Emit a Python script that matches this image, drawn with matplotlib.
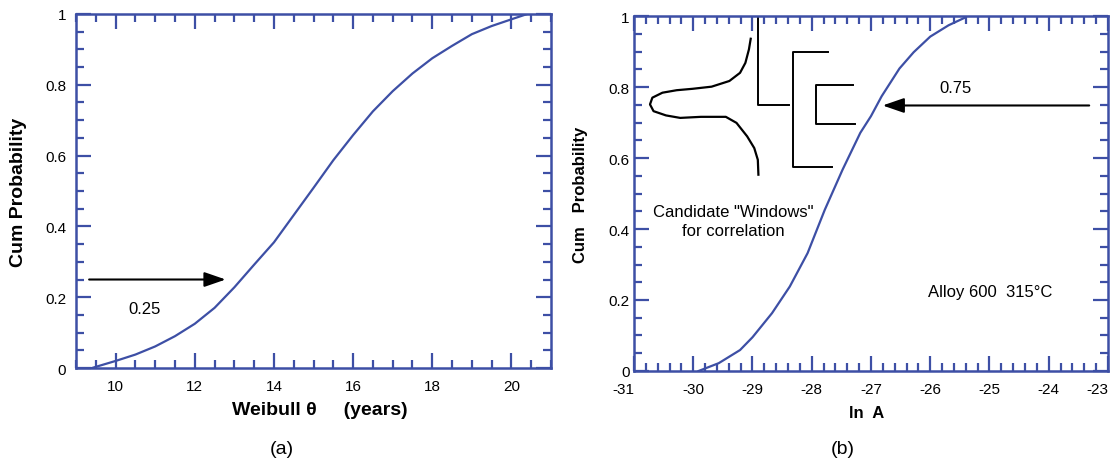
import matplotlib
matplotlib.use("Agg")
import matplotlib.pyplot as plt
from matplotlib.ticker import MultipleLocator

plt.rcParams['font.family'] = ['Liberation Sans', 'DejaVu Sans']
plt.rcParams['axes.unicode_minus'] = False

BLUE = "#3d4fa5"

# panel (a): Weibull theta (years) vs cum probability
theta = [9.4, 10.0, 10.5, 11.0, 11.5, 12.0, 12.5, 13.0, 13.5, 14.0, 14.5, 15.0,
         15.5, 16.0, 16.5, 17.0, 17.5, 18.0, 18.5, 19.0, 19.5, 20.0, 20.4]
prob_a = [0.0, 0.02, 0.038, 0.061, 0.09, 0.125, 0.17, 0.228, 0.292, 0.355, 0.432, 0.509,
          0.587, 0.658, 0.725, 0.782, 0.832, 0.875, 0.91, 0.943, 0.966, 0.985, 1.0]

# panel (b): ln A vs cum probability
lnA = [-29.91, -29.57, -29.21, -29.0, -28.67, -28.37, -28.07, -27.78, -27.48,
       -27.18, -27.0, -26.82, -26.52, -26.28, -26.0, -25.69, -25.42]
prob_b = [0.0, 0.022, 0.059, 0.095, 0.163, 0.238, 0.332, 0.454, 0.567,
          0.671, 0.718, 0.774, 0.852, 0.898, 0.942, 0.974, 0.995]

# sketch of sideways distribution in panel (b)
bell_x = [-29.03, -29.06, -29.12, -29.21, -29.39, -29.69, -30.01, -30.28, -30.52,
          -30.69, -30.73, -30.67, -30.46, -30.22, -29.87, -29.45, -29.27, -29.09,
          -28.97, -28.91, -28.90]
bell_y = [0.936, 0.906, 0.868, 0.840, 0.817, 0.801, 0.795, 0.791, 0.784,
          0.770, 0.751, 0.732, 0.720, 0.713, 0.716, 0.716, 0.699, 0.661,
          0.628, 0.595, 0.553]
# window brackets
win1_x = [-28.91, -28.91, -28.385]
win1_y = [1.0, 0.748, 0.748]
win2_x = [-27.72, -28.31, -28.31, -27.66]
win2_y = [0.898, 0.898, 0.574, 0.574]
win3_x = [-27.30, -27.93, -27.93, -27.27]
win3_y = [0.805, 0.805, 0.695, 0.695]

fig = plt.figure(figsize=(11.15, 4.64), dpi=100)
ax1 = fig.add_axes([0.0682, 0.2047, 0.426, 0.763])
ax2 = fig.add_axes([0.5686, 0.1983, 0.4251, 0.765])

def style(ax, xmaj, xmin, pady):
    for s in ax.spines.values():
        s.set_color(BLUE)
        s.set_linewidth(1.8)
    ax.xaxis.set_major_locator(MultipleLocator(xmaj))
    ax.xaxis.set_minor_locator(MultipleLocator(xmin))
    ax.yaxis.set_major_locator(MultipleLocator(0.2))
    ax.yaxis.set_minor_locator(MultipleLocator(0.05))
    ax.tick_params(which='both', direction='in', top=True, right=True,
                   color=BLUE, width=1.6, labelsize=11)
    ax.tick_params(which='major', length=11)
    ax.tick_params(which='minor', length=6)
    ax.tick_params(axis='x', pad=8)
    ax.tick_params(axis='y', pad=pady)
    ax.set_ylim(0, 1)
    ax.yaxis.set_major_formatter(plt.FuncFormatter(lambda v, p: "%g" % round(v, 2)))

# (a)
ax1.plot(theta, prob_a, color=BLUE, lw=1.6)
ax1.set_xlim(9, 21)
style(ax1, 2, 0.5, 7)
ax1.set_xticks([10, 12, 14, 16, 18, 20])
ax1.annotate("", xy=(12.85, 0.25), xytext=(9.26, 0.25),
             arrowprops=dict(arrowstyle="-|>,head_length=1.3,head_width=0.45",
                             color="black", lw=1.5))
ax1.text(10.72, 0.167, "0.25", fontsize=12, ha='center', va='center')
ax1.set_xlabel("Weibull \u03b8     (years)", fontsize=14, fontweight='bold')
ax1.xaxis.set_label_coords(0.514, -0.093)
ax1.set_ylabel("Cum Probability", fontsize=14, fontweight='bold')
ax1.yaxis.set_label_coords(-0.103, 0.5)

# (b)
ax2.plot(lnA, prob_b, color=BLUE, lw=1.6)
ax2.set_xlim(-31, -23)
style(ax2, 1, 0.2, 3)
ax2.set_xticks(range(-31, -22))
ax2.plot(bell_x, bell_y, color="black", lw=1.6)
for wx, wy in [(win1_x, win1_y), (win2_x, win2_y), (win3_x, win3_y)]:
    ax2.plot(wx, wy, color="black", lw=1.4)
ax2.annotate("", xy=(-26.85, 0.748), xytext=(-23.27, 0.748),
             arrowprops=dict(arrowstyle="-|>,head_length=1.3,head_width=0.45",
                             color="black", lw=1.5))
ax2.text(-25.57, 0.80, "0.75", fontsize=12, ha='center', va='center')
ax2.text(-24.98, 0.224, "Alloy 600  315\u00b0C", fontsize=12, ha='center', va='center')
ax2.text(-29.33, 0.423, "Candidate \"Windows\"\nfor correlation", fontsize=12,
         ha='center', va='center', linespacing=1.35)
ax2.set_xlabel("ln  A", fontsize=12, fontweight='bold')
ax2.xaxis.set_label_coords(0.49, -0.095)
ax2.set_ylabel("Cum   Probability", fontsize=12, fontweight='bold')
ax2.yaxis.set_label_coords(-0.097, 0.5)
# end labels sit inside the frame edge, as in the original
labels = ax2.get_xticklabels()
labels[0].set_horizontalalignment('right')
labels[-1].set_horizontalalignment('right')

fig.text(282 / 1115, 1 - 450 / 464, "(a)", fontsize=14, ha='center', va='center')
fig.text(843 / 1115, 1 - 450 / 464, "(b)", fontsize=14, ha='center', va='center')

fig.savefig("out.png", dpi=100)
